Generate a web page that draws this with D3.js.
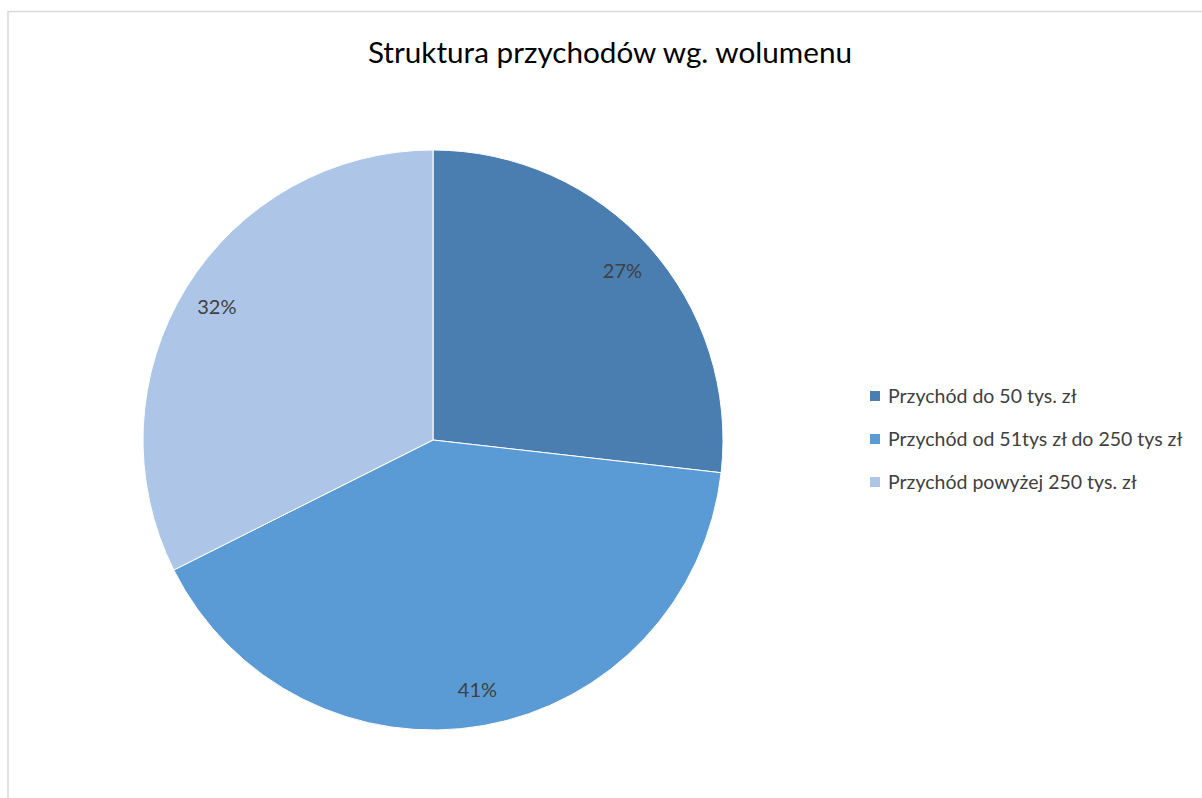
<!DOCTYPE html>
<html><head><meta charset="utf-8">
<script src="https://cdn.jsdelivr.net/npm/d3@7"></script>
<style>body{margin:0;background:#fff}svg{display:block}</style>
</head><body>
<svg id="c" width="1202" height="798"></svg>
<script>
const title = "Struktura przychodów wg. wolumenu";
const categories = ["Przychód do 50 tys. zł", "Przychód od 51tys zł do 250 tys zł", "Przychód powyżej 250 tys. zł"];
const values = [26.8, 40.8, 32.4];
const colors = ["#4A7EB1", "#5B9BD5", "#ADC5E7"];

const font = "Lato, 'Open Sans', sans-serif";
const svg = d3.select("#c");
// chart frame
svg.append("rect").attr("x", 8).attr("y", 11.5).attr("width", 1210).attr("height", 800)
  .attr("fill", "none").attr("stroke", "#d9d9d9").attr("stroke-width", 1.5);

svg.append("text").attr("x", 610).attr("y", 63).attr("text-anchor", "middle")
  .attr("font-family", font).attr("font-size", 29.7).attr("fill", "#000").text(title);

const cx = 433, cy = 440, R = 290;
const total = d3.sum(values);
const pie = d3.pie().sort(null).value(d => d)(values);
const arc = d3.arc().innerRadius(0).outerRadius(R);
const labelArc = d3.arc().innerRadius(254).outerRadius(254);
const g = svg.append("g").attr("transform", `translate(${cx},${cy})`);
g.selectAll("path").data(pie).join("path")
  .attr("d", arc).attr("fill", (d, i) => colors[i])
  .attr("stroke", "#fff").attr("stroke-width", 1);
g.selectAll("text").data(pie).join("text")
  .attr("transform", d => `translate(${labelArc.centroid(d)})`)
  .attr("text-anchor", "middle").attr("dy", "0.35em")
  .attr("font-family", font).attr("font-size", 20).attr("fill", "#404040")
  .text(d => Math.round(d.data / total * 100) + "%");

const leg = svg.append("g").attr("transform", "translate(870,396)");
const rows = leg.selectAll("g").data(categories).join("g")
  .attr("transform", (d, i) => `translate(0,${i * 43})`);
rows.append("rect").attr("x", 0).attr("y", -5).attr("width", 10).attr("height", 10)
  .attr("fill", (d, i) => colors[i]);
rows.append("text").attr("x", 18).attr("dy", "0.35em")
  .attr("font-family", font).attr("font-size", 19.5).attr("fill", "#404040").text(d => d);
</script>
</body></html>
